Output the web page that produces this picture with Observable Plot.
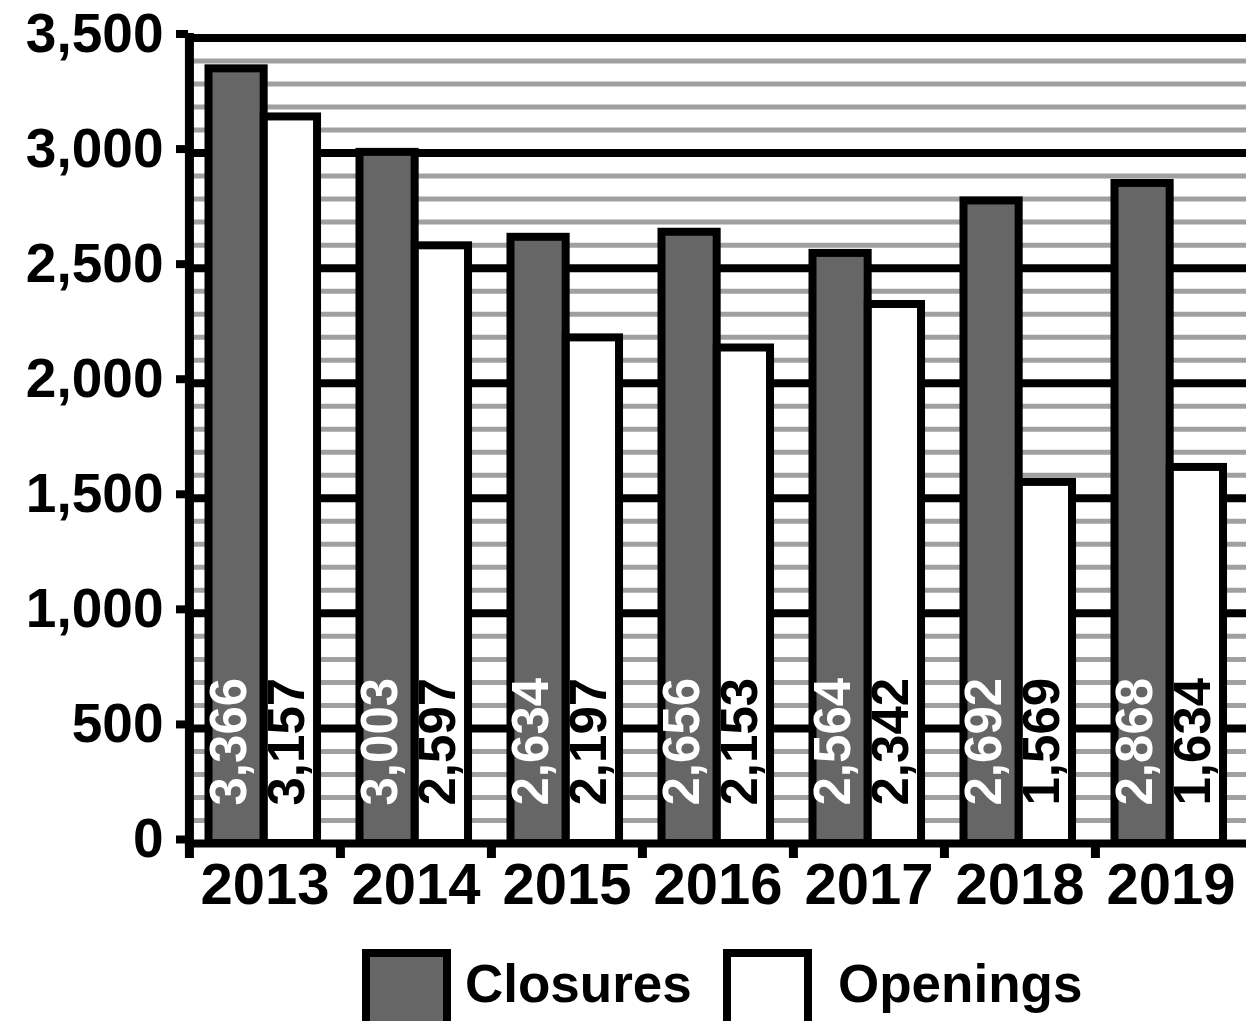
<!DOCTYPE html>
<html>
<head>
<meta charset="utf-8">
<script src="https://cdn.jsdelivr.net/npm/d3@7"></script>
<script src="https://cdn.jsdelivr.net/npm/@observablehq/plot@0.6"></script>
<style>
  html, body { margin: 0; padding: 0; background: #fff; overflow: hidden; }
  #wrap { position: relative; width: 1246px; height: 1021px; font-family: "Liberation Sans", Arial, sans-serif; font-weight: bold; }
  #wrap svg { display: block; }
  .sw { position: absolute; top: 949px; width: 89px; height: 89px; box-sizing: border-box; border: 8px solid #000; }
  .lt { position: absolute; top: 957px; font-size: 53px; line-height: 1; color: #000; white-space: nowrap; }
</style>
</head>
<body>
<div id="wrap"></div>
<script>
// ---- data ----
const years = ["2013", "2014", "2015", "2016", "2017", "2018", "2019"];
const seriesNames = ["Closures", "Openings"];
// bar heights as drawn
const closures = [3366, 3003, 2634, 2656, 2564, 2792, 2868];
const openings = [3157, 2597, 2197, 2153, 2342, 1569, 1634];
// value labels as printed on the bars
const closureLabels = ["3,366", "3,003", "2,634", "2,656", "2,564", "2,692", "2,868"];
const openingLabels = ["3,157", "2,597", "2,197", "2,153", "2,342", "1,569", "1,634"];
// axis ticks
const majorTicks = [0, 500, 1000, 1500, 2000, 2500, 3000, 3500];
const minorTicks = d3.range(100, 3500, 100).filter(v => v % 500 !== 0);

const colors = { Closures: "#666666", Openings: "#ffffff" };

const rows = years.map((yr, i) => ({
  year: yr,
  closures: closures[i],
  openings: openings[i],
  closureLabel: closureLabels[i],
  openingLabel: openingLabels[i]
}));

const W = 1246, H = 920, ML = 188, MR = 0, MT = 37.5, MB = 77;
const bw = (W - ML - MR) / years.length;

const chart = Plot.plot({
  width: W,
  height: H,
  marginLeft: ML,
  marginRight: MR,
  marginTop: MT,
  marginBottom: MB,
  style: { fontFamily: '"Liberation Sans", Arial, sans-serif', fontWeight: "bold", background: "#fff", overflow: "visible" },
  x: { type: "band", domain: years, padding: 0, label: null },
  y: { domain: [0, 3500], label: null },
  marks: [
    Plot.ruleY(minorTicks, { stroke: "#a0a0a0", strokeWidth: 5 }),
    Plot.ruleY(majorTicks, { stroke: "#000", strokeWidth: 8 }),
    Plot.barY(rows, {
      x: "year", y: "closures", fill: colors.Closures, stroke: "#000", strokeWidth: 8,
      insetLeft: 0.129 * bw, insetRight: 0.505 * bw
    }),
    Plot.barY(rows, {
      x: "year", y: "openings", fill: colors.Openings, stroke: "#000", strokeWidth: 8,
      insetLeft: 0.495 * bw, insetRight: 0.152 * bw
    }),
    Plot.text(rows, {
      x: "year", y: d => 0, text: "closureLabel", rotate: -90, textAnchor: "start",
      lineAnchor: "middle", fill: "#fff", fontSize: 51, dy: -38, dx: -0.188 * bw - 7
    }),
    Plot.text(rows, {
      x: "year", y: d => 0, text: "openingLabel", rotate: -90, textAnchor: "start",
      lineAnchor: "middle", fill: "#000", fontSize: 51, dy: -38, dx: 0.172 * bw - 3
    }),
    Plot.ruleX([years[0]], { x: d => d, y1: 0, y2: 3500, dx: -bw / 2, stroke: "#000", strokeWidth: 9, strokeLinecap: "square" }),
    Plot.axisY({ ticks: majorTicks, label: null, tickSize: 12, tickPadding: 13, strokeWidth: 8, fontSize: 55, dy: -4, fill: "#000", color: "#000" }),
    Plot.axisX({ label: null, tickSize: 0, tickPadding: 19, fontSize: 58, fill: "#000" }),
    Plot.axisX({ label: null, tickSize: 15, tickFormat: () => "", dx: -bw / 2, strokeWidth: 9 })
  ]
});

const wrap = document.getElementById("wrap");
wrap.appendChild(chart);

// legend (below the chart)
const legendPos = [
  { name: seriesNames[0], sw: 362, tx: 465 },
  { name: seriesNames[1], sw: 723, tx: 838 }
];
for (const p of legendPos) {
  const s = document.createElement("div");
  s.className = "sw";
  s.style.left = p.sw + "px";
  s.style.background = colors[p.name];
  wrap.appendChild(s);
  const t = document.createElement("div");
  t.className = "lt";
  t.style.left = p.tx + "px";
  t.textContent = p.name;
  wrap.appendChild(t);
}
</script>
</body>
</html>
